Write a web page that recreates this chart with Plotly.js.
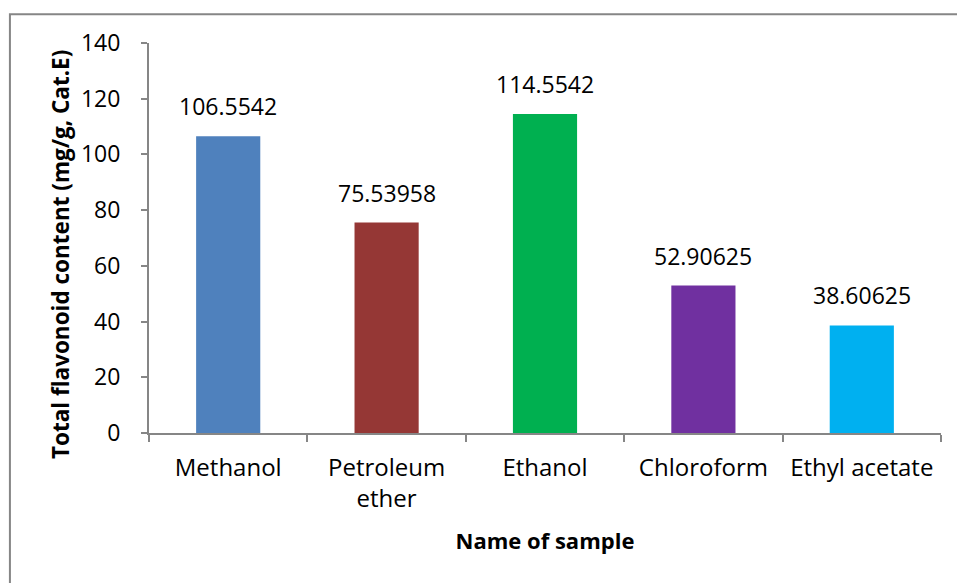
<!DOCTYPE html>
<html>
<head>
<meta charset="utf-8">
<script src="https://cdn.plot.ly/plotly-3.0.1.min.js"></script>
<style>html,body{margin:0;padding:0;background:#fff;}#chart{width:957px;height:583px;}</style>
</head>
<body>
<div id="chart"></div>
<script>
const categories = ["Methanol", "Petroleum<br>ether", "Ethanol", "Chloroform", "Ethyl acetate"];
const values = [106.5542, 75.53958, 114.5542, 52.90625, 38.60625];
const valueLabels = ["106.5542", "75.53958", "114.5542", "52.90625", "38.60625"];
const barColors = ["#4F81BD", "#953735", "#00B050", "#7030A0", "#00B0F0"];
const yTicks = [0, 20, 40, 60, 80, 100, 120, 140];
const xTitle = "Name of sample";
const yTitle = "Total flavonoid content (mg/g, Cat.E)";

const FONT = "Open Sans, Noto Sans, sans-serif";

const trace = {
  type: "bar",
  x: categories,
  y: values,
  marker: {color: barColors},
  hoverinfo: "skip"
};

const annotations = categories.map((c, i) => ({
  x: c, y: values[i], xref: "x", yref: "y",
  text: valueLabels[i], showarrow: false,
  yanchor: "bottom", yshift: 12,
  font: {family: FONT, size: 23, color: "#000"}
}));
annotations.push({
  xref: "paper", yref: "paper", x: -0.111, y: 0.4565,
  xanchor: "center", yanchor: "middle", textangle: -90,
  text: "<b>" + yTitle + "</b>", showarrow: false,
  font: {family: FONT, size: 22.5, color: "#000"}
});

const layout = {
  width: 957, height: 583,
  margin: {l: 149, r: 16, t: 43, b: 150},
  paper_bgcolor: "#fff", plot_bgcolor: "#fff",
  showlegend: false,
  bargap: 0.595,
  xaxis: {
    type: "category",
    showline: true, linecolor: "#868686", linewidth: 2,
    ticks: "outside", tickson: "boundaries", ticklen: 7, tickcolor: "#868686", tickwidth: 2,
    showgrid: false, zeroline: false,
    tickfont: {family: FONT, size: 24, color: "#000"},
    ticklabelstandoff: 12,
    title: {text: "<b>" + xTitle + "</b>", font: {family: FONT, size: 22, color: "#000"}, standoff: 21}
  },
  yaxis: {
    range: [0, 140],
    tickvals: yTicks,
    showline: true, linecolor: "#868686", linewidth: 2,
    ticks: "outside", ticklen: 6, tickcolor: "#868686", tickwidth: 2,
    showgrid: false, zeroline: false,
    tickfont: {family: FONT, size: 23, color: "#000"},
    ticklabelstandoff: 16
  },
  annotations: annotations,
  shapes: [{
    type: "rect", xref: "paper", yref: "paper",
    x0: -0.1756, x1: 1.2, y0: -0.6, y1: 1.0735,
    line: {color: "#868686", width: 2}, fillcolor: "rgba(0,0,0,0)", layer: "below"
  }]
};

Plotly.newPlot("chart", [trace], layout, {displayModeBar: false, staticPlot: true});
</script>
</body>
</html>
